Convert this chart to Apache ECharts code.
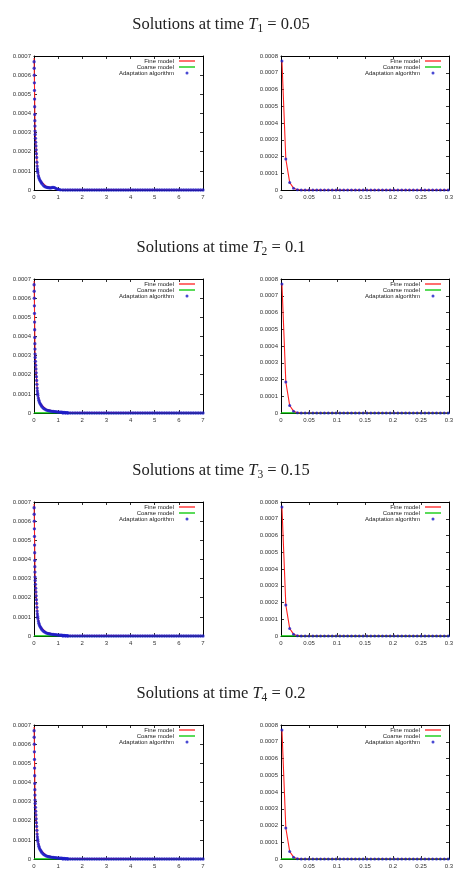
<!DOCTYPE html>
<html><head><meta charset="utf-8">
<script src="https://cdn.jsdelivr.net/npm/echarts@6/dist/echarts.min.js"></script>
<style>html,body{margin:0;padding:0;background:#fff}#c{width:460px;height:892px}</style>
</head><body><div id="c"></div>
<script>
// ---------------- DATA ----------------
const timeIndex = ['1', '2', '3', '4'];
const timeValue = ['0.05', '0.1', '0.15', '0.2'];
const seriesNames = ['Fine model', 'Coarse model', 'Adaptation algorithm'];

// left panels (x in [0,7])
const leftXMax = 7, leftXStep = 1, leftYMax = 0.0007;
// right panels (x in [0,0.3])
const rightXMax = 0.3, rightXStep = 0.05, rightYMax = 0.0008;
const yStep = 0.0001;

// adaptation algorithm, left panels: steep head near x = 0
const leftHeadX = [0.004, 0.008, 0.012, 0.016, 0.02, 0.024, 0.028, 0.032, 0.036, 0.04, 0.044];
const leftHeadY = [0.00067, 0.000636, 0.0006, 0.00056, 0.00052, 0.000475, 0.000435, 0.000395, 0.000362, 0.000334, 0.000308];

// curved part, row 1
const leftCurveX1 = [0.05, 0.06, 0.07, 0.08, 0.09, 0.1, 0.11, 0.12, 0.13, 0.14, 0.15, 0.16, 0.18, 0.2, 0.22, 0.25, 0.28, 0.31, 0.35, 0.4, 0.45, 0.5, 0.55, 0.6, 0.65, 0.7, 0.75, 0.8, 0.85, 0.9, 0.95, 1.0, 1.05, 1.1];
const leftCurveY1 = [0.00029, 0.00027, 0.00025, 0.00023, 0.00021, 0.00019, 0.00017, 0.000145, 0.000125, 0.00011, 0.0001, 0.00009, 0.000075, 0.000065, 0.000057, 0.00005, 0.000043, 0.000037, 0.00003, 0.000022, 0.000018, 0.000015, 0.000013, 0.000012, 0.000011, 0.000011, 0.000013, 0.000014, 0.000012, 0.000009, 0.000006, 0.000003, 0.000002, 0.000001];
// curved part, rows 2-4
const leftCurveX2 = [0.05, 0.06, 0.07, 0.08, 0.09, 0.1, 0.11, 0.12, 0.13, 0.14, 0.15, 0.16, 0.18, 0.2, 0.22, 0.25, 0.28, 0.31, 0.35, 0.4, 0.45, 0.5, 0.55, 0.6, 0.65, 0.7, 0.75, 0.8, 0.85, 0.9, 0.95, 1.0, 1.05, 1.1, 1.15, 1.2, 1.25, 1.3, 1.35, 1.4];
const leftCurveY2 = [0.00029, 0.00027, 0.00025, 0.00023, 0.00021, 0.00019, 0.00017, 0.00015, 0.00013, 0.000115, 0.000102, 0.000092, 0.000078, 0.000067, 0.000058, 0.00005, 0.000043, 0.000037, 0.00003, 0.000024, 0.00002, 0.000016, 0.000014, 0.000012, 0.000011, 0.00001, 0.000009, 0.000008, 0.000007, 0.000007, 0.000006, 0.000005, 0.000005, 0.000004, 0.000004, 0.000003, 0.000003, 0.000002, 0.000002, 0.000001];
// flat tail
const leftTailX = [1.2, 1.3, 1.4, 1.5, 1.6, 1.7, 1.8, 1.9, 2.0, 2.1, 2.2, 2.3, 2.4, 2.5, 2.6, 2.7, 2.8, 2.9, 3.0, 3.1, 3.2, 3.3, 3.4, 3.5, 3.6, 3.7, 3.8, 3.9, 4.0, 4.1, 4.2, 4.3, 4.4, 4.5, 4.6, 4.7, 4.8, 4.9, 5.0, 5.1, 5.2, 5.3, 5.4, 5.5, 5.6, 5.7, 5.8, 5.9, 6.0, 6.1, 6.2, 6.3, 6.4, 6.5, 6.6, 6.7, 6.8, 6.9, 7.0];
const leftTailY = [0, 0, 0, 0, 0, 0, 0, 0, 0, 0, 0, 0, 0, 0, 0, 0, 0, 0, 0, 0, 0, 0, 0, 0, 0, 0, 0, 0, 0, 0, 0, 0, 0, 0, 0, 0, 0, 0, 0, 0, 0, 0, 0, 0, 0, 0, 0, 0, 0, 0, 0, 0, 0, 0, 0, 0, 0, 0, 0];

// fine model, left panels
const leftFineX = [0.005, 0.015, 0.025, 0.035, 0.045, 0.07, 0.1, 0.15, 0.25, 0.5, 1.0, 7.0];
const leftFineY = [0.00069, 0.0006, 0.0005, 0.0004, 0.00031, 0.00025, 0.00019, 0.0001, 0.00005, 0.00002, 0.000004, 0];
// coarse model, left panels (none in row 1)
const leftCoarseX = [0, 7];
const leftCoarseY = [0, 0];

// right panels: mesh points
const rightX = [0.0017, 0.0086, 0.0155, 0.0224, 0.0293, 0.0362, 0.0431, 0.05, 0.0569, 0.0638, 0.0707, 0.0776, 0.0845, 0.0914, 0.0983, 0.1052, 0.1121, 0.119, 0.1259, 0.1328, 0.1397, 0.1466, 0.1535, 0.1604, 0.1673, 0.1742, 0.1811, 0.188, 0.1949, 0.2018, 0.2087, 0.2156, 0.2225, 0.2294, 0.2363, 0.2432, 0.2501, 0.257, 0.2639, 0.2708, 0.2777, 0.2846, 0.2915, 0.2984];
const rightAdaptY = [0.00077, 0.000185, 0.000045, 0.000011, 0.000002, 0, 0, 0, 0, 0, 0, 0, 0, 0, 0, 0, 0, 0, 0, 0, 0, 0, 0, 0, 0, 0, 0, 0, 0, 0, 0, 0, 0, 0, 0, 0, 0, 0, 0, 0, 0, 0, 0, 0];
const rightFineY = [0.00077, 0.000185, 0.000045, 0.000011, 0.000002, 0, 0, 0, 0, 0, 0, 0, 0, 0, 0, 0, 0, 0, 0, 0, 0, 0, 0, 0, 0, 0, 0, 0, 0, 0, 0, 0, 0, 0, 0, 0, 0, 0, 0, 0, 0, 0, 0, 0];
const rightCoarseX = [0, 0.3];
const rightCoarseY = [0, 0];

const hasCoarse = [false, true, true, true];

// ---------------- BUILD ----------------
function zip(xs, ys) { return xs.map((x, i) => [x, ys[i]]); }

const rowTops = [56, 279, 502, 725];
const plotH = 134;
const panel = [
  { left: 34, width: 169, legendRight: 265 },
  { left: 281, width: 168, legendRight: 19 }
];
const RED = '#ff2020', GREEN = '#00c800', BLUE = '#1c1cc8';
const labelFont = { fontFamily: 'Liberation Sans', fontSize: 6, color: '#333' };

const grids = [], xAxes = [], yAxes = [], series = [], legends = [], titles = [];
const lineIcon = 'path://M0,0 L16,0 L16,1.3 L0,1.3 Z';

for (let r = 0; r < 4; r++) {
  const base = { fontFamily: 'Liberation Serif', fontWeight: 'normal', color: '#222' };
  titles.push({
    text: '{a|Solutions at time }{i|T}{s|' + timeIndex[r] + '}{a| = ' + timeValue[r] + '}',
    left: 221, top: rowTops[r] - 41, textAlign: 'center', padding: 0,
    textStyle: Object.assign({ fontSize: 16.5, rich: {
        a: Object.assign({ fontSize: 16.5, lineHeight: 20 }, base),
        i: Object.assign({ fontStyle: 'italic', fontSize: 16.5, lineHeight: 20 }, base),
        s: Object.assign({ fontSize: 11.5, lineHeight: 12, verticalAlign: 'bottom' }, base)
      } }, base)
  });
}

const axisBase = {
  type: 'value',
  axisLine: { show: true, onZero: false, lineStyle: { color: '#000', width: 1 } },
  axisTick: { show: true, inside: true, length: 3, lineStyle: { color: '#000', width: 0.8 } },
  splitLine: { show: false }
};

const topX = [], rightY = [];
for (let r = 0; r < 4; r++) {
  for (let s = 0; s < 2; s++) {
    const gi = r * 2 + s;
    const p = panel[s];
    grids.push({ left: p.left, top: rowTops[r], width: p.width, height: plotH, containLabel: false });
    const xmax = s ? rightXMax : leftXMax, xint = s ? rightXStep : leftXStep;
    const ymax = s ? rightYMax : leftYMax;
    xAxes.push(Object.assign({}, axisBase, { gridIndex: gi, min: 0, max: xmax, interval: xint, position: 'bottom',
      axisLabel: Object.assign({ margin: 4 }, labelFont) }));
    topX.push(Object.assign({}, axisBase, { gridIndex: gi, min: 0, max: xmax, interval: xint, position: 'top',
      axisLabel: { show: false } }));
    yAxes.push(Object.assign({}, axisBase, { gridIndex: gi, min: 0, max: ymax, interval: yStep, position: 'left',
      axisLabel: Object.assign({ margin: 3 }, labelFont) }));
    rightY.push(Object.assign({}, axisBase, { gridIndex: gi, min: 0, max: ymax, interval: yStep, position: 'right',
      axisLabel: { show: false } }));

    let coarse, fine, adapt;
    if (s === 0) {
      coarse = hasCoarse[r] ? zip(leftCoarseX, leftCoarseY) : [];
      fine = zip(leftFineX, leftFineY);
      const cx = r === 0 ? leftCurveX1 : leftCurveX2;
      const cy = r === 0 ? leftCurveY1 : leftCurveY2;
      adapt = zip(leftHeadX, leftHeadY).concat(zip(cx, cy)).concat(zip(leftTailX, leftTailY));
    } else {
      coarse = hasCoarse[r] ? zip(rightCoarseX, rightCoarseY) : [];
      fine = zip(rightX, rightFineY);
      adapt = zip(rightX, rightAdaptY);
    }
    series.push({ type: 'line', name: 'Coarse model', xAxisIndex: gi, yAxisIndex: gi, data: coarse,
      symbol: 'none', color: GREEN, lineStyle: { color: GREEN, width: 1.3 }, z: 2 });
    series.push({ type: 'line', name: 'Fine model', xAxisIndex: gi, yAxisIndex: gi, data: fine,
      symbol: 'none', color: RED, lineStyle: { color: RED, width: 1.1 }, z: 3 });
    series.push({ type: 'scatter', name: 'Adaptation algorithm', xAxisIndex: gi, yAxisIndex: gi, data: adapt,
      symbol: 'circle', symbolSize: s ? 3 : 3.3, itemStyle: { color: BLUE }, z: 4 });

    legends.push({
      orient: 'vertical', right: p.legendRight, top: rowTops[r] + 2, align: 'right',
      itemWidth: 16, itemHeight: 3, itemGap: 0, padding: 0, selectedMode: false,
      textStyle: { fontFamily: 'Liberation Sans', fontSize: 6, color: '#222', lineHeight: 6 },
      data: [
        { name: 'Fine model', icon: lineIcon },
        { name: 'Coarse model', icon: lineIcon },
        { name: 'Adaptation algorithm', icon: 'circle' }
      ]
    });
  }
}

const chart = echarts.init(document.getElementById('c'), null, { renderer: 'canvas' });
chart.setOption({
  animation: false,
  backgroundColor: '#fff',
  title: titles,
  grid: grids,
  xAxis: xAxes.concat(topX),
  yAxis: yAxes.concat(rightY),
  legend: legends,
  series: series
});
</script>
</body></html>
